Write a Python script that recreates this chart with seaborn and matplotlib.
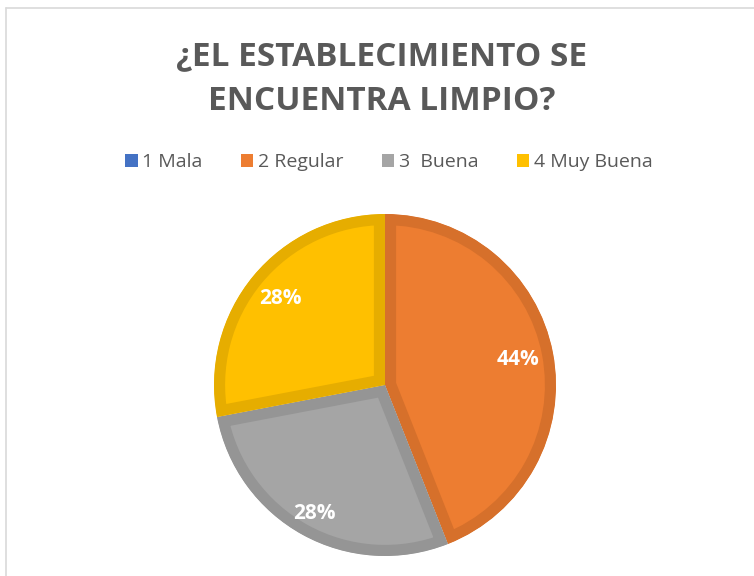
import numpy as np
import matplotlib
matplotlib.use("Agg")
import matplotlib.pyplot as plt
from matplotlib.patches import Patch
from matplotlib.lines import Line2D
import seaborn as sns

# data
categories = ['1 Mala', '2 Regular', '3  Buena', '4 Muy Buena']
counts = [0, 11, 7, 7]
fill_colors = ['#4472C4', '#ED7D31', '#A5A5A5', '#FFC000']
edge_colors = ['#3C67B3', '#D6702B', '#959595', '#E6AD00']
label_dist = [0.8, 0.79, 0.86, 0.79]
title = '¿EL ESTABLECIMIENTO SE\nENCUENTRA LIMPIO?'

sns.set_theme(style='white')
plt.rcParams['font.family'] = ['Open Sans', 'DejaVu Sans']

W, H = 754, 576
fig = plt.figure(figsize=(W / 100, H / 100), dpi=100)

# pie centre (385, 385) px, radius 171 px
cx, cy, r = 385, 385, 171
ax = fig.add_axes([(cx - r) / W, (H - cy - r) / H, 2 * r / W, 2 * r / H])


def pct_label(p):
    return f'{p:.0f}%' if p > 0.5 else ''


wedges, texts, autotexts = ax.pie(
    counts, colors=fill_colors, startangle=90, counterclock=False,
    autopct=pct_label, pctdistance=0.8,
    textprops=dict(color='white', fontsize=15, fontweight='bold'),
    wedgeprops=dict(linewidth=16)
)
# border drawn only inside each slice
for w, ec in zip(wedges, edge_colors):
    w.set_edgecolor(ec)
    w.set_clip_path(w)
    w.set_clip_on(True)

# per-slice label distance, along each wedge's mid angle
for w, t, d in zip(wedges, autotexts, label_dist):
    mid = np.deg2rad((w.theta1 + w.theta2) / 2)
    t.set_position((d * np.cos(mid), d * np.sin(mid)))

ax.set_xlim(-1, 1)
ax.set_ylim(-1, 1)
ax.set_aspect('equal')
ax.axis('off')

fig.text(382 / W, 1 - 79 / H, title, ha='center', va='center',
         fontsize=24, fontweight='bold', color='#595959', linespacing=1.45)

handles = [Patch(facecolor=c, edgecolor='none') for c in fill_colors]
fig.legend(handles, categories, loc='center', bbox_to_anchor=(389 / W, 1 - 162 / H),
           ncol=4, frameon=False, fontsize=14, handlelength=0.65, handleheight=0.65,
           handletextpad=0.25, columnspacing=1.95, labelcolor='#595959')

# chart area frame (left and top edges visible)
fig.add_artist(Line2D([6 / W, 6 / W], [0, 1 - 8 / H], color='#D9D9D9', lw=1.2))
fig.add_artist(Line2D([6 / W, 1], [1 - 8 / H, 1 - 8 / H], color='#D9D9D9', lw=1.2))

fig.savefig('out.png', dpi=100)
